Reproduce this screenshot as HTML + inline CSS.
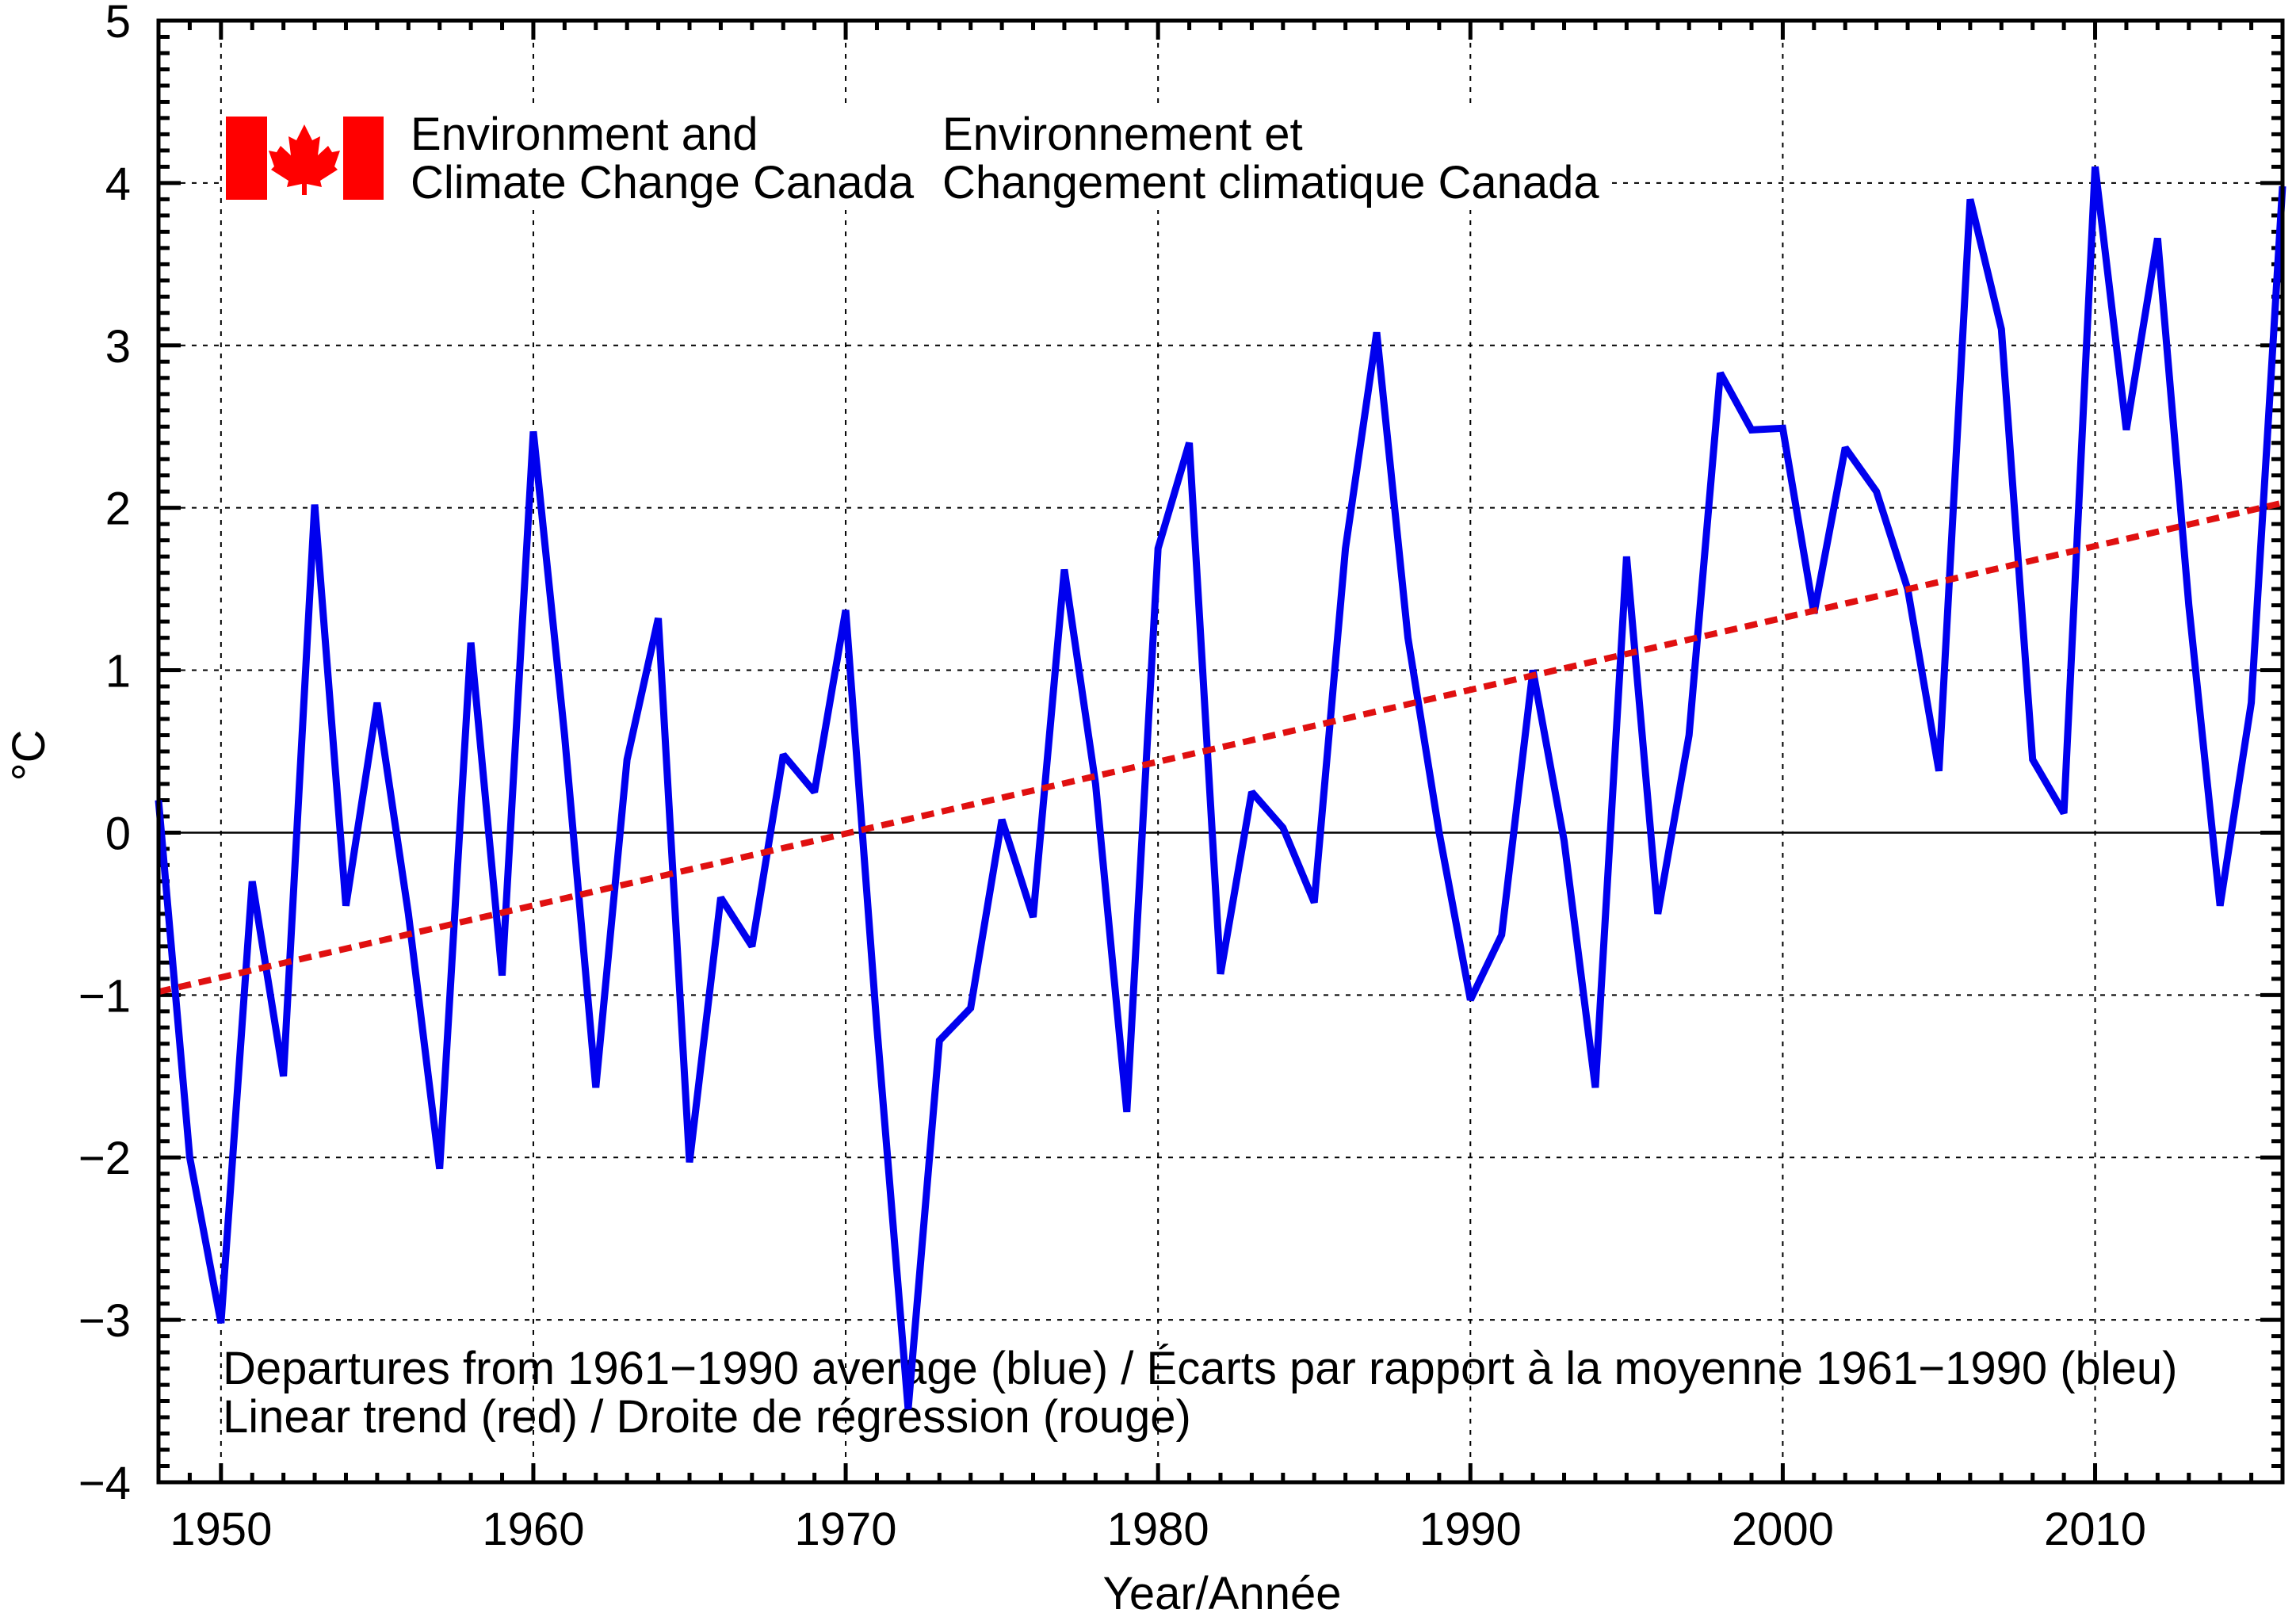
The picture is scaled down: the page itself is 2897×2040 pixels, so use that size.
<!DOCTYPE html>
<html><head><meta charset="utf-8"><style>
html,body{margin:0;padding:0;background:#fff}
svg{display:block;font-family:"Liberation Sans",sans-serif}
</style></head><body>
<svg id="chart" width="2897" height="2040" viewBox="0 0 2897 2040" xmlns="http://www.w3.org/2000/svg">
<rect width="2897" height="2040" fill="#fff"/>
<g id="grid"></g>
<g id="ticks"></g>
<g>
<rect x="280" y="135" width="1750" height="130" fill="#fff"/>
<rect x="285" y="147" width="52" height="105" fill="#f00"/>
<rect x="433" y="147" width="51" height="105" fill="#f00"/>
<path fill="#f00" d="M384,157 L394,177 L404,172 L401,196 L414,184 L419,192 L429,190 L422,210 L426,214 L404,228 L406,236 L387,232 L387,246 L381,246 L381,232 L362,236 L364,228 L342,214 L346,210 L339,190 L349,192 L354,184 L367,196 L364,172 L374,177 Z"/>
<text x="518" y="189" font-size="58">Environment and</text>
<text x="518" y="250" font-size="58">Climate Change Canada</text>
<text x="1189" y="189" font-size="58">Environnement et</text>
<text x="1189" y="250" font-size="58">Changement climatique Canada</text>
</g>
<text x="281" y="1746" font-size="58">Departures from 1961−1990 average (blue) / Écarts par rapport à la moyenne 1961−1990 (bleu)</text>
<text x="281" y="1807" font-size="58">Linear trend (red) / Droite de régression (rouge)</text>
<g id="series"></g>
<text x="1542" y="2030" font-size="58" text-anchor="middle">Year/Année</text>
<text transform="translate(56,953) rotate(-90)" font-size="58" text-anchor="middle">°C</text>
<rect x="200" y="26" width="2680" height="1844" fill="none" stroke="#000" stroke-width="5"/>
</svg>
<script>
const years = [];
for (let y = 1948; y <= 2016; y++) years.push(y);
const departures = [0.2,-2.0,-3.02,-0.3,-1.5,2.02,-0.45,0.8,-0.5,-2.07,1.17,-0.88,2.47,0.6,-1.57,0.45,1.32,-2.03,-0.4,-0.7,0.48,0.25,1.37,-1.2,-3.55,-1.28,-1.08,0.08,-0.52,1.62,0.3,-1.72,1.75,2.4,-0.87,0.25,0.03,-0.43,1.75,3.08,1.2,0.0,-1.03,-0.63,1.0,-0.05,-1.57,1.7,-0.5,0.6,2.83,2.48,2.49,1.35,2.37,2.1,1.5,0.38,3.9,3.1,0.45,0.12,4.1,2.48,3.66,1.4,-0.45,0.8,3.98];
const trendStart = [1948, -0.98];
const trendEnd = [2016, 2.03];
const yTicks = [-4,-3,-2,-1,0,1,2,3,4,5];
const xTicks = [1950,1960,1970,1980,1990,2000,2010];

const X0=200,X1=2880,Y0=26,Y1=1870,xmin=1948,xmax=2016,ymin=-4,ymax=5;
const sx=v=>X0+(v-xmin)/(xmax-xmin)*(X1-X0);
const sy=v=>Y1-(v-ymin)/(ymax-ymin)*(Y1-Y0);
const NS='http://www.w3.org/2000/svg';
function mk(tag,attrs,parent){const e=document.createElementNS(NS,tag);for(const k in attrs)e.setAttribute(k,attrs[k]);parent.appendChild(e);return e;}
const grid=document.getElementById('grid'),ticks=document.getElementById('ticks'),series=document.getElementById('series'),svg=document.getElementById('chart');

xTicks.forEach(t=>{
  const l=mk('line',{x1:sx(t),x2:sx(t),y1:Y0,y2:Y1,stroke:'#000','stroke-width':2,'stroke-dasharray':'6,8'},grid);
  
  
  const tx=mk('text',{x:sx(t),y:1949,'font-size':58,'text-anchor':'middle'},svg);
  tx.textContent=t;
  
  
});
yTicks.forEach(t=>{
  if(t>ymin&&t<ymax){
    const l=mk('line',{x1:X0,x2:X1,y1:sy(t),y2:sy(t),stroke:'#000','stroke-width':t===0?2.5:2,'stroke-dasharray':t===0?'none':'6,8'},grid);
    
    
  }
  const tx=mk('text',{x:165,y:sy(t)+21,'font-size':58,'text-anchor':'end'},svg);
  tx.textContent=t<0?'−'+Math.abs(t):String(t);
  
  
});
let d='';
for(let y=xmin;y<=xmax;y++){const L=(y%10===0)?24:12;const x=sx(y);d+=`M${x},${Y1}v${-L}M${x},${Y0}v${L}`;}
for(let i=ymin*10;i<=ymax*10;i++){const L=(i%10===0)?28:14;const y=sy(i/10);d+=`M${X0},${y}h${L}M${X1},${y}h${-L}`;}
const tp=mk('path',{d:d,stroke:'#000','stroke-width':5,fill:'none'},ticks);



const pts=years.map((y,i)=>sx(y)+','+sy(departures[i])).join(' ');
const pl=mk('polyline',{points:pts,fill:'none',stroke:'#0000ee','stroke-width':9,'stroke-linejoin':'miter','stroke-miterlimit':2},series);


const tr=mk('line',{x1:sx(trendStart[0]),y1:sy(trendStart[1]),x2:sx(trendEnd[0]),y2:sy(trendEnd[1]),stroke:'#e01010','stroke-width':8,'stroke-dasharray':'16,10'},series);


</script>
</body></html>
